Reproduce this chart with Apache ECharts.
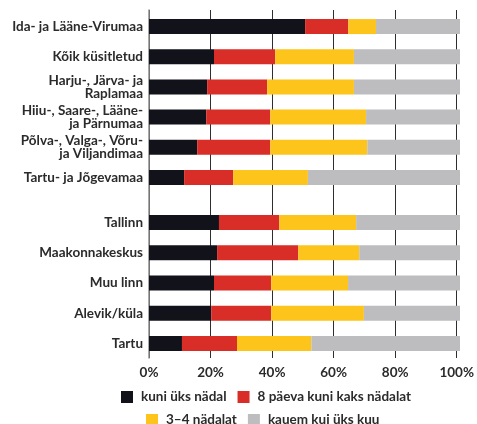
<!DOCTYPE html>
<html>
<head>
<meta charset="utf-8">
<script src="https://cdn.jsdelivr.net/npm/echarts@6/dist/echarts.min.js"></script>
<style>
  html, body { margin: 0; padding: 0; background: #fff; }
  #chart { width: 477px; height: 424px; }
</style>
</head>
<body>
<div id="chart"></div>
<script>
// regions (top block) and settlement types (bottom block), listed top to bottom
const regions = ['Ida- ja Lääne-Virumaa', 'Kõik küsitletud', 'Harju-, Järva- ja\nRaplamaa',
  'Hiiu-, Saare-, Lääne-\nja Pärnumaa', 'Põlva-, Valga-, Võru-\nja Viljandimaa', 'Tartu- ja Jõgevamaa']
const places = ['Tallinn', 'Maakonnakeskus', 'Muu linn', 'Alevik/küla', 'Tartu']

const seriesNames = ['kuni üks nädal', '8 päeva kuni kaks nädalat', '3–4 nädalat', 'kauem kui üks kuu']
const colors = ['#12121a', '#d92d27', '#fdc41b', '#bdbdc0']

// percentages, same order as the category lists
const regionWeek = [50.2, 20.9, 18.7, 18.4, 15.5, 11.3]
const regionTwoWeeks = [13.9, 19.7, 19.3, 20.6, 23.5, 15.8]
const regionMonth = [8.9, 25.3, 27.9, 30.8, 31.2, 24.0]
const regionLonger = [27.0, 34.1, 34.1, 30.2, 29.8, 48.9]

const placeWeek = [22.5, 21.9, 20.9, 20.0, 10.6]
const placeTwoWeeks = [19.4, 26.1, 18.4, 19.3, 17.7]
const placeMonth = [24.7, 19.6, 24.7, 29.8, 23.9]
const placeLonger = [33.4, 32.4, 36.0, 30.9, 47.8]

const xTicks = [0, 20, 40, 60, 80, 100]

const font = 'Lato, sans-serif'
const textColor = '#2b2b2b'

let chart = echarts.init(document.getElementById('chart'))

function barSeries(name, data, idx, color) {
  return {
    name: name,
    type: 'bar',
    stack: 'g' + idx,
    xAxisIndex: idx,
    yAxisIndex: idx,
    data: data,
    barWidth: 15,
    itemStyle: { color: color },
    emphasis: { disabled: true }
  }
}

const regionData = [regionWeek, regionTwoWeeks, regionMonth, regionLonger]
const placeData = [placeWeek, placeTwoWeeks, placeMonth, placeLonger]

let series = []
seriesNames.forEach((n, i) => {
  series.push(barSeries(n, regionData[i].slice().reverse(), 1, colors[i]))
  series.push(barSeries(n, placeData[i].slice().reverse(), 2, colors[i]))
})

const catLabel = {
  fontFamily: font,
  fontWeight: 'bold',
  fontSize: 13.5,
  lineHeight: 13,
  color: textColor,
  margin: 6
}

let option = {
  animation: false,
  grid: [
    { left: 149, right: 17, top: 10, height: 348 },
    { left: 149, right: 17, top: 11.5, height: 181 },
    { left: 149, right: 17, top: 207.5, height: 151 }
  ],
  xAxis: [
    {
      gridIndex: 0, type: 'value', min: 0, max: 100, interval: 20,
      axisLine: { show: false },
      axisTick: { show: false },
      splitLine: { show: true, lineStyle: { color: '#2e2e2e', width: 1 } },
      axisLabel: {
        fontFamily: font, fontWeight: 'bold', fontSize: 13.5, color: textColor, margin: 8,
        formatter: v => xTicks.indexOf(v) >= 0 ? v + '%' : ''
      }
    },
    { gridIndex: 1, type: 'value', min: 0, max: 100, show: false },
    { gridIndex: 2, type: 'value', min: 0, max: 100, show: false }
  ],
  yAxis: [
    {
      gridIndex: 0, type: 'value', min: 0, max: 1,
      axisLine: { show: true, lineStyle: { color: '#8c8c8c', width: 1.5 } },
      axisTick: { show: false }, axisLabel: { show: false }, splitLine: { show: false }
    },
    {
      gridIndex: 1, type: 'category', data: regions.slice().reverse(),
      axisLine: { show: false }, axisTick: { show: false }, axisLabel: catLabel
    },
    {
      gridIndex: 2, type: 'category', data: places.slice().reverse(),
      axisLine: { show: false }, axisTick: { show: false }, axisLabel: catLabel
    }
  ],
  legend: [
    {
      data: seriesNames.slice(0, 2), left: 121, top: 390,
      itemWidth: 12, itemHeight: 12, itemGap: 11, padding: 0,
      icon: 'rect', selectedMode: false,
      textStyle: { fontFamily: font, fontWeight: 'bold', fontSize: 13.5, color: textColor, padding: [0, 0, 0, 3] }
    },
    {
      data: seriesNames.slice(2), left: 146, top: 413,
      itemWidth: 12, itemHeight: 12, itemGap: 11, padding: 0,
      icon: 'rect', selectedMode: false,
      textStyle: { fontFamily: font, fontWeight: 'bold', fontSize: 13.5, color: textColor, padding: [0, 0, 0, 3] }
    }
  ],
  series: series
}

chart.setOption(option)
</script>
</body>
</html>
